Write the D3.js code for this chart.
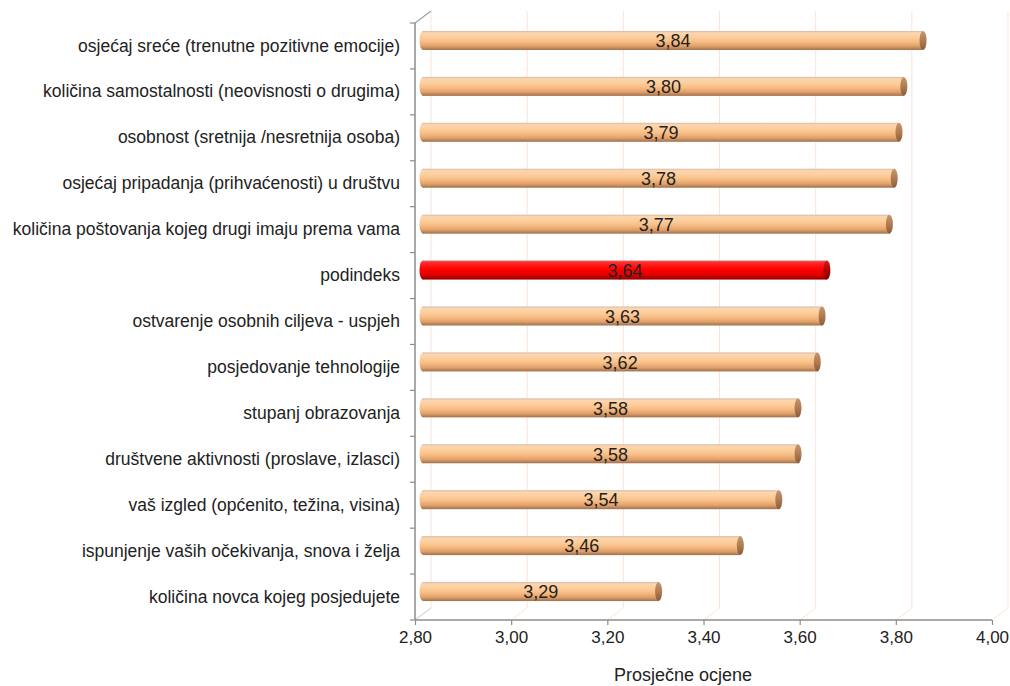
<!DOCTYPE html>
<html>
<head>
<meta charset="utf-8">
<script src="https://cdn.jsdelivr.net/npm/d3@7"></script>
<style>
  html, body { margin: 0; padding: 0; background: #fff; }
  svg { display: block; }
  text { font-family: "Liberation Sans", Arial, sans-serif; fill: #222; }
</style>
</head>
<body>
<svg id="chart" width="1010" height="686"></svg>
<script>
// Prosječne ocjene po kategorijama
const categories = [
  "osjećaj sreće (trenutne pozitivne emocije)",
  "količina samostalnosti (neovisnosti o drugima)",
  "osobnost (sretnija /nesretnija osoba)",
  "osjećaj pripadanja (prihvaćenosti) u društvu",
  "količina poštovanja kojeg drugi imaju prema vama",
  "podindeks",
  "ostvarenje osobnih ciljeva - uspjeh",
  "posjedovanje tehnologije ",
  "stupanj obrazovanja",
  "društvene aktivnosti (proslave, izlasci)",
  "vaš izgled (općenito, težina, visina)",
  "ispunjenje vaših očekivanja, snova i želja",
  "količina novca kojeg posjedujete"
];
const values = [3.84, 3.80, 3.79, 3.78, 3.77, 3.64, 3.63, 3.62, 3.58, 3.58, 3.54, 3.46, 3.29];
const highlighted = ["podindeks"];
const xTicks = [2.8, 3.0, 3.2, 3.4, 3.6, 3.8, 4.0];
const xTitle = "Prosječne ocjene";

const svg = d3.select("#chart");
const fmt = v => d3.format(".2f")(v).replace(".", ",");

const x = d3.scaleLinear().domain([2.8, 4.0]).range([415, 992]);
const y = d3.scaleBand().domain(categories).range([23, 620]);

// oblique depth of the 3D box
const DX = 16, DY = -12;
const baseY = y.range()[1];
const topY = y.range()[0];

// gradients for the cylinders
const defs = svg.append("defs");
function cyl(id, stops) {
  const g = defs.append("linearGradient").attr("id", id)
    .attr("x1", 0).attr("y1", 0).attr("x2", 0).attr("y2", 1);
  stops.forEach(([o, c]) => g.append("stop").attr("offset", o).attr("stop-color", c));
}
cyl("bodyOrange", [[0, "#d6b8a2"], [0.1, "#fbd6b0"], [0.3, "#fdcf9e"], [0.55, "#f8be86"], [0.8, "#e0a06a"], [1, "#a0704c"]]);
cyl("capOrange", [[0, "#c49670"], [0.5, "#b07c52"], [1, "#8a5c3a"]]);
cyl("bodyRed", [[0, "#e06060"], [0.12, "#ff2a2a"], [0.45, "#ff0000"], [0.75, "#e00000"], [1, "#900000"]]);
cyl("capRed", [[0, "#d02020"], [0.5, "#b00000"], [1, "#800000"]]);

// back-wall gridlines and floor diagonals
const grid = svg.append("g");
xTicks.forEach(t => {
  grid.append("line")
    .attr("x1", x(t) + DX).attr("x2", x(t) + DX)
    .attr("y1", topY + DY).attr("y2", baseY + DY)
    .attr("stroke", t === 2.8 ? "#f3e6de" : "#fde3d6").attr("stroke-width", 1);
  grid.append("line")
    .attr("x1", x(t)).attr("y1", baseY)
    .attr("x2", x(t) + DX).attr("y2", baseY + DY)
    .attr("stroke", t === 2.8 ? "#c8c8c8" : "#fde3d6").attr("stroke-width", 1);
});
// top edge of the side wall
grid.append("line")
  .attr("x1", x(2.8)).attr("y1", topY)
  .attr("x2", x(2.8) + DX).attr("y2", topY + DY)
  .attr("stroke", "#a0a0a0").attr("stroke-width", 1.2);

// axes
const axisColor = "#8c8c8c";
const gx = svg.append("g").attr("transform", `translate(0,${baseY})`)
  .call(d3.axisBottom(x).tickValues(xTicks).tickFormat(fmt).tickSize(5).tickPadding(6));
const gy = svg.append("g").attr("transform", `translate(${x(2.8)},0)`)
  .call(d3.axisLeft(y).tickSize(0).tickPadding(15));
// category boundary ticks
const bounds = d3.range(categories.length + 1).map(i => topY + i * y.step());
svg.append("g").selectAll("line").data(bounds).join("line")
  .attr("x1", x(2.8) - 5).attr("x2", x(2.8))
  .attr("y1", d => d).attr("y2", d => d)
  .attr("stroke", axisColor).attr("stroke-width", 1.2);

[gx, gy].forEach(g => {
  g.select(".domain").attr("stroke", axisColor).attr("stroke-width", 1.5);
  g.selectAll(".tick line").attr("stroke", axisColor).attr("stroke-width", 1.2);
  g.selectAll("text").attr("fill", "#222").style("font-family", "'Liberation Sans', Arial, sans-serif");
});
gx.selectAll("text").attr("font-size", 17);
gy.selectAll("text").attr("font-size", 17.5);
gy.select(".domain").attr("d", `M0,${topY}V${baseY}`);
gx.select(".domain").attr("d", `M${x(2.8)},0H${x(4.0)}`);

// cylinders
const H = 19, RX = 3.5;
const bars = svg.append("g").selectAll("g").data(categories.map((c, i) => ({ c, v: values[i] }))).join("g");
bars.each(function (d) {
  const g = d3.select(this);
  const hi = highlighted.includes(d.c);
  const cy = y(d.c) + y.bandwidth() / 2 + DY / 2 + 0.5;
  const x0 = x(2.8) + DX / 2, x1 = x(d.v) + DX / 2;
  // left end
  g.append("ellipse").attr("cx", x0).attr("cy", cy).attr("rx", RX).attr("ry", H / 2)
    .attr("fill", hi ? "url(#bodyRed)" : "url(#bodyOrange)");
  // body
  g.append("rect").attr("x", x0).attr("y", cy - H / 2).attr("width", x1 - x0).attr("height", H)
    .attr("fill", hi ? "url(#bodyRed)" : "url(#bodyOrange)");
  // right cap
  g.append("ellipse").attr("cx", x1).attr("cy", cy).attr("rx", RX).attr("ry", H / 2)
    .attr("fill", hi ? "url(#capRed)" : "url(#capOrange)");
  // value label
  g.append("text").attr("x", (x0 + x1) / 2).attr("y", cy + 2)
    .attr("text-anchor", "middle").attr("dominant-baseline", "middle")
    .attr("font-size", 18).attr("fill", "#222").text(fmt(d.v));
});

// axis title
svg.append("text").attr("x", 683).attr("y", 676)
  .attr("text-anchor", "middle").attr("dominant-baseline", "middle")
  .attr("font-size", 18).text(xTitle);
</script>
</body>
</html>
